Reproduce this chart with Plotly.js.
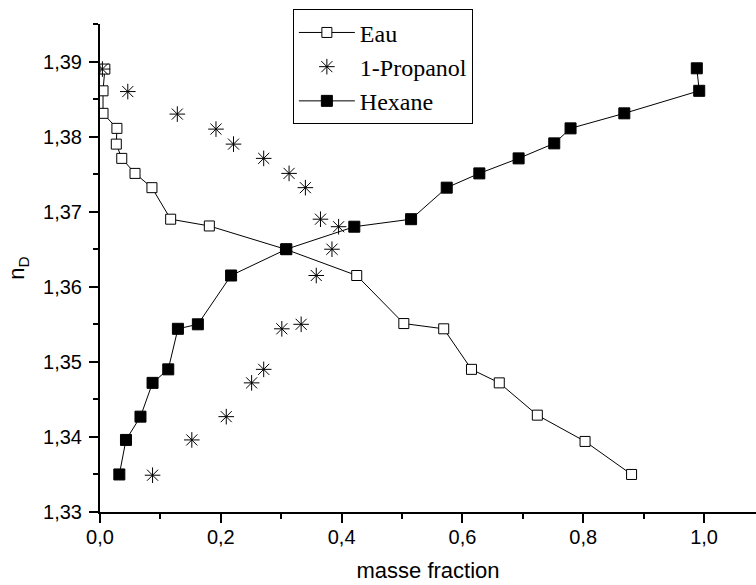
<!DOCTYPE html>
<html>
<head>
<meta charset="utf-8">
<script src="https://cdn.plot.ly/plotly-3.0.1.min.js"></script>
<style>html,body{margin:0;padding:0;background:#fff;}#chart{width:756px;height:585px;}</style>
</head>
<body>
<div id="chart"></div>
<script>
const seriesNames = ["Eau", "1-Propanol", "Hexane"];

const eauX = [0.008, 0.005, 0.005, 0.028, 0.027, 0.036, 0.058, 0.086, 0.117, 0.181, 0.307, 0.425, 0.503, 0.569, 0.615, 0.661, 0.724, 0.803, 0.880];
const eauY = [1.3890, 1.3861, 1.3831, 1.3811, 1.3790, 1.3771, 1.3751, 1.3732, 1.3690, 1.3681, 1.3650, 1.3615, 1.3551, 1.3544, 1.3490, 1.3472, 1.3429, 1.3394, 1.3350];

const propX = [0.004, 0.046, 0.128, 0.192, 0.221, 0.271, 0.313, 0.340, 0.365, 0.395, 0.384, 0.358, 0.333, 0.301, 0.271, 0.251, 0.209, 0.152, 0.087];
const propY = [1.3890, 1.3860, 1.3830, 1.3810, 1.3790, 1.3771, 1.3751, 1.3732, 1.3690, 1.3680, 1.3650, 1.3615, 1.3550, 1.3544, 1.3490, 1.3472, 1.3427, 1.3396, 1.3349];

const hexX = [0.032, 0.043, 0.067, 0.087, 0.113, 0.129, 0.162, 0.217, 0.3085, 0.421, 0.515, 0.574, 0.628, 0.693, 0.752, 0.779, 0.868, 0.992, 0.988];
const hexY = [1.3350, 1.3396, 1.3427, 1.3472, 1.3490, 1.3544, 1.3550, 1.3615, 1.3650, 1.3680, 1.3690, 1.3732, 1.3751, 1.3771, 1.3791, 1.3811, 1.3831, 1.3861, 1.3891];

const xTitle = "masse fraction";
const yTitle = "n<sub>D</sub>";

const traces = [
  {
    x: eauX, y: eauY, name: seriesNames[0], type: "scatter", mode: "lines+markers",
    line: {color: "#000", width: 1},
    marker: {symbol: "square", size: 10, color: "#fff", line: {color: "#000", width: 1}}
  },
  {
    x: propX, y: propY, name: seriesNames[1], type: "scatter", mode: "markers",
    marker: {symbol: "asterisk-open", size: 13, color: "#000", line: {color: "#000", width: 1}}
  },
  {
    x: hexX, y: hexY, name: seriesNames[2], type: "scatter", mode: "lines+markers",
    line: {color: "#000", width: 1},
    marker: {symbol: "square", size: 11, color: "#000", line: {color: "#000", width: 1}}
  }
];

const axisCommon = {
  showline: true, linecolor: "#000", linewidth: 2,
  ticks: "outside", ticklen: 9, tickwidth: 2, tickcolor: "#000",
  showgrid: false, zeroline: false, mirror: false,
  tickfont: {family: "Liberation Sans, Arial, sans-serif", size: 20, color: "#000"}
};

const layout = {
  width: 756, height: 585,
  margin: {l: 100, r: 0, t: 24, b: 73},
  paper_bgcolor: "#fff", plot_bgcolor: "#fff",
  separators: ", ",
  showlegend: true,
  legend: {
    x: 0.294, y: 1.03, xanchor: "left", yanchor: "top",
    bordercolor: "#000", borderwidth: 1, bgcolor: "#fff",
    font: {family: "Liberation Serif, Times New Roman, serif", size: 24, color: "#000"},
    itemwidth: 56, tracegroupgap: 0
  },
  xaxis: Object.assign({}, axisCommon, {
    range: [0, 1.086], dtick: 0.2, tick0: 0, tickformat: ".1f",
    ticklabelstandoff: -3,
    minor: {dtick: 0.1, ticklen: 5, tickwidth: 2, tickcolor: "#000", ticks: "outside", showgrid: false},
    title: {text: xTitle, font: {family: "Liberation Sans, Arial, sans-serif", size: 22, color: "#000"}, standoff: 16}
  }),
  yaxis: Object.assign({}, axisCommon, {
    range: [1.33, 1.395], dtick: 0.01, tick0: 1.33, tickformat: ".2f",
    ticklabelstandoff: 3,
    minor: {dtick: 0.005, ticklen: 5, tickwidth: 2, tickcolor: "#000", ticks: "outside", showgrid: false},
    title: {text: yTitle, font: {family: "Liberation Sans, Arial, sans-serif", size: 22, color: "#000"}, standoff: 12}
  })
};

Plotly.newPlot("chart", traces, layout, {displayModeBar: false, staticPlot: true});
</script>
</body>
</html>
